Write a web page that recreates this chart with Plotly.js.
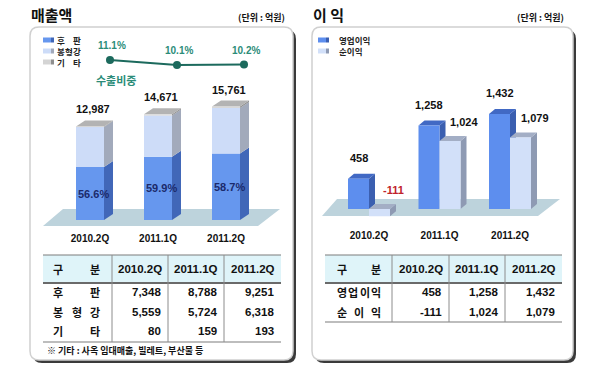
<!DOCTYPE html>
<html><head><meta charset="utf-8">
<script src="https://cdn.plot.ly/plotly-3.0.1.min.js"></script>
<style>html,body{margin:0;padding:0;background:#fff;}#chart{width:600px;height:377px;}</style>
</head><body><div id="chart"></div>
<script>
// ---------------- data ----------------
const quarters = ['2010.2Q', '2011.1Q', '2011.2Q'];
const salesNames = ['후판', '봉형강', '기타'];
const plate = [7348, 8788, 9251];
const section = [5559, 5724, 6318];
const others = [80, 159, 193];
const salesTotal = [12987, 14671, 15761];
const plateShare = [56.6, 59.9, 58.7];
const exportShare = [11.1, 10.1, 10.2];
const exportLabel = '수출비중';
const profitNames = ['영업이익', '순이익'];
const opProfit = [458, 1258, 1432];
const netProfit = [-111, 1024, 1079];
const salesTitle = '매출액';
const profitTitle = '이 익';
const unitText = '(단위 : 억원)';
const tableHead = '구분';
const salesNote = '※ 기타 : 사옥 임대매출, 빌레트, 부산물 등';

// ---------------- helpers ----------------
const W = 600, H = 377;
const KR = "'Noto Sans CJK KR', sans-serif";
const NUM = "'Liberation Sans', Arial, sans-serif";
const fmt = v => v.toLocaleString('en-US');
const fx = x => x / W, fy = y => 1 - y / H;
const P = (x, y) => (x / W).toFixed(5) + ',' + (1 - y / H).toFixed(5);
const shapes = [], ann = [];

function rrect(x0, y0, x1, y1, r) {
  return 'M' + P(x0 + r, y0) + ' L' + P(x1 - r, y0) + ' Q' + P(x1, y0) + ' ' + P(x1, y0 + r) +
    ' L' + P(x1, y1 - r) + ' Q' + P(x1, y1) + ' ' + P(x1 - r, y1) + ' L' + P(x0 + r, y1) +
    ' Q' + P(x0, y1) + ' ' + P(x0, y1 - r) + ' L' + P(x0, y0 + r) + ' Q' + P(x0, y0) + ' ' + P(x0 + r, y0) + ' Z';
}
function paperPath(d, fill, line) {
  shapes.push({type: 'path', xref: 'paper', yref: 'paper', layer: 'below', path: d, fillcolor: fill, line: line || {width: 0}});
}
function paperRect(x0, y0, x1, y1, fill) {
  shapes.push({type: 'rect', xref: 'paper', yref: 'paper', layer: 'below', x0: fx(x0), x1: fx(x1), y0: fy(y1), y1: fy(y0), fillcolor: fill, line: {width: 0}});
}
function paperLine(x0, y0, x1, y1, color, width) {
  shapes.push({type: 'line', xref: 'paper', yref: 'paper', layer: 'above', x0: fx(x0), x1: fx(x1), y0: fy(y0), y1: fy(y1), line: {color: color, width: width}});
}
function dataPath(xr, yr, pts, fill) {
  shapes.push({type: 'path', xref: xr, yref: yr, layer: 'between',
    path: 'M' + pts.map(p => p[0] + ',' + p[1]).join(' L') + ' Z', fillcolor: fill, line: {width: 0}});
}
function pText(text, x, y, size, color, family, xanchor) {
  ann.push({xref: 'paper', yref: 'paper', x: fx(x), y: fy(y), text: text, showarrow: false,
    xanchor: xanchor || 'center', yanchor: 'middle', font: {size: size, color: color, family: family}});
}
function justify(label, cx0, cx1, y, size, color) {
  const chars = [...label.replace(/\s/g, '')];
  const n = chars.length;
  chars.forEach((c, k) => {
    const x = n === 1 ? (cx0 + cx1) / 2 : cx0 + k * (cx1 - cx0) / (n - 1);
    pText('<b>' + c + '</b>', x, y, size, color, KR);
  });
}

// ---------------- panels ----------------
paperPath(rrect(33, 30, 296, 363, 9), '#3a3a3a');
paperPath(rrect(30, 27, 293, 360, 9), '#ffffff', {color: '#d0d0d0', width: 1.5});
paperPath(rrect(315, 30, 576, 363, 9), '#3a3a3a');
paperPath(rrect(312, 27, 573, 360, 9), '#ffffff', {color: '#d0d0d0', width: 1.5});
// floors
paperPath('M' + P(43, 226) + ' L' + P(63, 209) + ' L' + P(280, 209) + ' L' + P(258, 226) + ' Z', '#bdd3dc');
paperPath('M' + P(322, 216) + ' L' + P(337, 199) + ' L' + P(560, 199) + ' L' + P(538, 216) + ' Z', '#bdd3dc');

// titles
pText('<b>' + salesTitle + '</b>', 29, 15, 15, '#111', KR, 'left');
pText('<b>' + unitText + '</b>', 287, 17, 9, '#111', KR, 'right');
pText('<b>' + profitTitle + '</b>', 311, 15, 15, '#111', KR, 'left');
pText('<b>' + unitText + '</b>', 566, 17, 9, '#111', KR, 'right');

// legends (manual)
const salesFront = ['#6697ee', '#cddcf8', '#d4d4d4'];
const salesSide = ['#4167b8', '#a2aabb', '#8f8f8f'];
const legY = [40, 51, 62];
salesNames.forEach((nm, k) => {
  paperRect(43, legY[k] - 2.5, 51, legY[k] + 2.5, salesFront[k]);
  paperRect(51, legY[k] - 2.5, 54, legY[k] + 2.5, salesSide[k]);
  justify(nm, 61, 77, legY[k], 8.5, '#222');
});
const profFront = ['#5d8eee', '#d2e0f9'];
const profSide = ['#3b5fb0', '#8e9ab3'];
profitNames.forEach((nm, k) => {
  paperRect(318, legY[k] - 2.5, 326, legY[k] + 2.5, profFront[k]);
  paperRect(326, legY[k] - 2.5, 329, legY[k] + 2.5, profSide[k]);
  pText('<b>' + nm + '</b>', 337, legY[k], 8.5, '#222', KR, 'left');
});

// ---------------- left chart (stacked 3D bars) ----------------
const wL = 28 / 68, dxL = 9 / 68, dyL = 6 / 0.0072;
const baseSec = plate.map((v, i) => v);
const baseOth = plate.map((v, i) => v + section[i]);
const segs = [plate, section, others];
const bases = [plate.map(() => 0), baseSec, baseOth];
quarters.forEach((q, i) => {
  const xl = i - wL / 2, xr = i + wL / 2;
  segs.forEach((s, k) => {
    const y0 = bases[k][i], y1 = bases[k][i] + s[i];
    dataPath('x', 'y', [[xr, y0], [xr + dxL, y0 + dyL], [xr + dxL, y1 + dyL], [xr, y1]], salesSide[k]);
  });
  const top = baseOth[i] + others[i];
  dataPath('x', 'y', [[xl, top], [xr, top], [xr + dxL, top + dyL], [xl + dxL, top + dyL]], '#b3b3b3');
  ann.push({xref: 'x', yref: 'y', x: i, y: salesTotal[i], xshift: 3, yshift: 17, showarrow: false,
    xanchor: 'center', yanchor: 'middle', text: '<b>' + fmt(salesTotal[i]) + '</b>', font: {family: NUM, size: 11, color: '#111'}});
  ann.push({xref: 'x', yref: 'y', x: i, y: plate[i] / 2, xshift: 3, showarrow: false,
    xanchor: 'center', yanchor: 'middle', text: '<b>' + plateShare[i].toFixed(1) + '%</b>', font: {family: NUM, size: 11, color: '#1b2a6b'}});
});

// export share line labels
exportShare.forEach((v, i) => {
  ann.push({xref: 'x2', yref: 'y2', x: i, y: v, xshift: 2, yshift: 14, showarrow: false,
    xanchor: 'center', yanchor: 'middle', text: '<b>' + v.toFixed(1) + '%</b>', font: {family: NUM, size: 10, color: '#2b8c78'}});
});
pText('<b>' + exportLabel + '</b>', 116, 80, 11, '#2b8c78', KR);

// ---------------- right chart (grouped 3D bars) ----------------
const wR = 21 / 70.5, dxR = 6 / 70.5, dyR = 5 / 0.0663;
quarters.forEach((q, i) => {
  // 영업이익
  let xl = i - wR, xr = i, v = opProfit[i];
  let y0 = Math.min(v, 0), y1 = Math.max(v, 0);
  dataPath('x3', 'y3', [[xr, y0], [xr + dxR, y0 + dyR], [xr + dxR, y1 + dyR], [xr, y1]], '#3b5fb0');
  dataPath('x3', 'y3', [[xl, y1], [xr, y1], [xr + dxR, y1 + dyR], [xl + dxR, y1 + dyR]], '#4169c4');
  ann.push({xref: 'x3', yref: 'y3', x: i - wR / 2, y: y1, yshift: 21, showarrow: false,
    xanchor: 'center', yanchor: 'middle', text: '<b>' + fmt(v) + '</b>', font: {family: NUM, size: 11, color: '#111'}});
  // 순이익
  xl = i; xr = i + wR; v = netProfit[i];
  y0 = Math.min(v, 0); y1 = Math.max(v, 0);
  dataPath('x3', 'y3', [[xr, y0], [xr + dxR, y0 + dyR], [xr + dxR, y1 + dyR], [xr, y1]], '#8e9ab3');
  dataPath('x3', 'y3', [[xl, y1], [xr, y1], [xr + dxR, y1 + dyR], [xl + dxR, y1 + dyR]], '#a3aec5');
  ann.push({xref: 'x3', yref: 'y3', x: i + wR / 2, y: y1, xshift: 14, yshift: 19, showarrow: false,
    xanchor: 'center', yanchor: 'middle', text: '<b>' + fmt(v) + '</b>',
    font: {family: NUM, size: 11, color: v < 0 ? '#c0232b' : '#111'}});
});

// ---------------- tables ----------------
function drawTable(x0, x1, cols, rowsY, bottomY, labels, values, lblC0, lblC1) {
  paperRect(x0, 255, x1, 283, '#dff4f9');
  justify(tableHead, lblC0, lblC1, 269, 11, '#111');
  quarters.forEach((q, j) => {
    pText('<b>' + q + '</b>', (cols[j] + cols[j + 1]) / 2, 269, 11.5, '#111', NUM);
  });
  labels.forEach((lb, r) => {
    justify(lb, lblC0, lblC1, rowsY[r], 11, '#111');
    values[r].forEach((v, j) => {
      pText('<b>' + fmt(v) + '</b>', cols[j + 1] - 5, rowsY[r], 11.5, '#111', NUM, 'right');
    });
  });
  paperLine(x0, 255, x1, 255, '#7d7d7d', 1.2);
  paperLine(x0, 283, x1, 283, '#6a6a6a', 2);
  paperLine(x0, bottomY, x1, bottomY, '#7d7d7d', 1.2);
  for (let j = 0; j < cols.length - 1; j++) paperLine(cols[j], 255, cols[j], bottomY, '#8c8c8c', 1);
}
drawTable(43, 281, [112, 168, 224, 281], [292, 312, 331], 342, salesNames, [plate, section, others], 58, 95);
pText('<b>' + salesNote + '</b>', 45, 350, 9, '#111', KR, 'left');
drawTable(325, 562, [392, 449, 505, 562], [292, 312], 322, profitNames, [opProfit, netProfit], 342, 376);

// ---------------- traces ----------------
const idx = [0, 1, 2];
const traces = [
  {type: 'bar', x: idx, y: plate, base: 0, width: wL, xaxis: 'x', yaxis: 'y', name: salesNames[0],
    marker: {color: salesFront[0], line: {width: 0}}, hoverinfo: 'skip'},
  {type: 'bar', x: idx, y: section, base: baseSec, width: wL, xaxis: 'x', yaxis: 'y', name: salesNames[1],
    marker: {color: salesFront[1], line: {width: 0}}, hoverinfo: 'skip'},
  {type: 'bar', x: idx, y: others, base: baseOth, width: wL, xaxis: 'x', yaxis: 'y', name: salesNames[2],
    marker: {color: salesFront[2], line: {width: 0}}, hoverinfo: 'skip'},
  {type: 'scatter', mode: 'lines+markers', x: idx, y: exportShare, xaxis: 'x2', yaxis: 'y2', name: exportLabel,
    line: {color: '#1c6a5d', width: 2}, marker: {color: '#1c6a5d', size: 8}, hoverinfo: 'skip'},
  {type: 'bar', x: idx, y: opProfit, width: wR, offset: -wR, xaxis: 'x3', yaxis: 'y3', name: profitNames[0],
    marker: {color: profFront[0], line: {width: 0}}, hoverinfo: 'skip'},
  {type: 'bar', x: idx, y: netProfit, width: wR, offset: 0, xaxis: 'x3', yaxis: 'y3', name: profitNames[1],
    marker: {color: profFront[1], line: {width: 0}}, hoverinfo: 'skip'}
];

const tickfont = {family: NUM, size: 10, color: '#111'};
const ticktext = quarters.map(q => '<b>' + q + '</b>');
const layout = {
  width: W, height: H, margin: {l: 0, r: 0, t: 0, b: 0, pad: 0},
  paper_bgcolor: '#ffffff', plot_bgcolor: 'rgba(0,0,0,0)',
  showlegend: false, barmode: 'overlay', hovermode: false,
  xaxis: {domain: [fx(56), fx(260)], range: [-0.5, 2.5], anchor: 'y', tickvals: idx, ticktext: ticktext,
    tickfont: tickfont, showgrid: false, zeroline: false, showline: false, ticks: 'outside', ticklen: 9,
    tickcolor: 'rgba(0,0,0,0)', fixedrange: true},
  yaxis: {domain: [fy(220), fy(80)], range: [0, 140 / 0.0072], anchor: 'x', visible: false, fixedrange: true},
  xaxis2: {domain: [fx(76.5), fx(277.5)], range: [-0.5, 2.5], anchor: 'y2', visible: false, fixedrange: true},
  yaxis2: {domain: [fy(75), fy(50)], range: [8.1, 13.1], anchor: 'x2', visible: false, fixedrange: true},
  xaxis3: {domain: [fx(333.75), fx(545.25)], range: [-0.5, 2.5], anchor: 'y3', tickvals: idx, ticktext: ticktext,
    tickfont: tickfont, showgrid: false, zeroline: false, showline: false, ticks: 'outside', ticklen: 6,
    tickcolor: 'rgba(0,0,0,0)', fixedrange: true},
  yaxis3: {domain: [fy(220), fy(80)], range: [-11 / 0.0663, 129 / 0.0663], anchor: 'x3', visible: false, fixedrange: true},
  shapes: shapes,
  annotations: ann
};
Plotly.newPlot('chart', traces, layout, {staticPlot: true, displayModeBar: false});
</script>
</body></html>
